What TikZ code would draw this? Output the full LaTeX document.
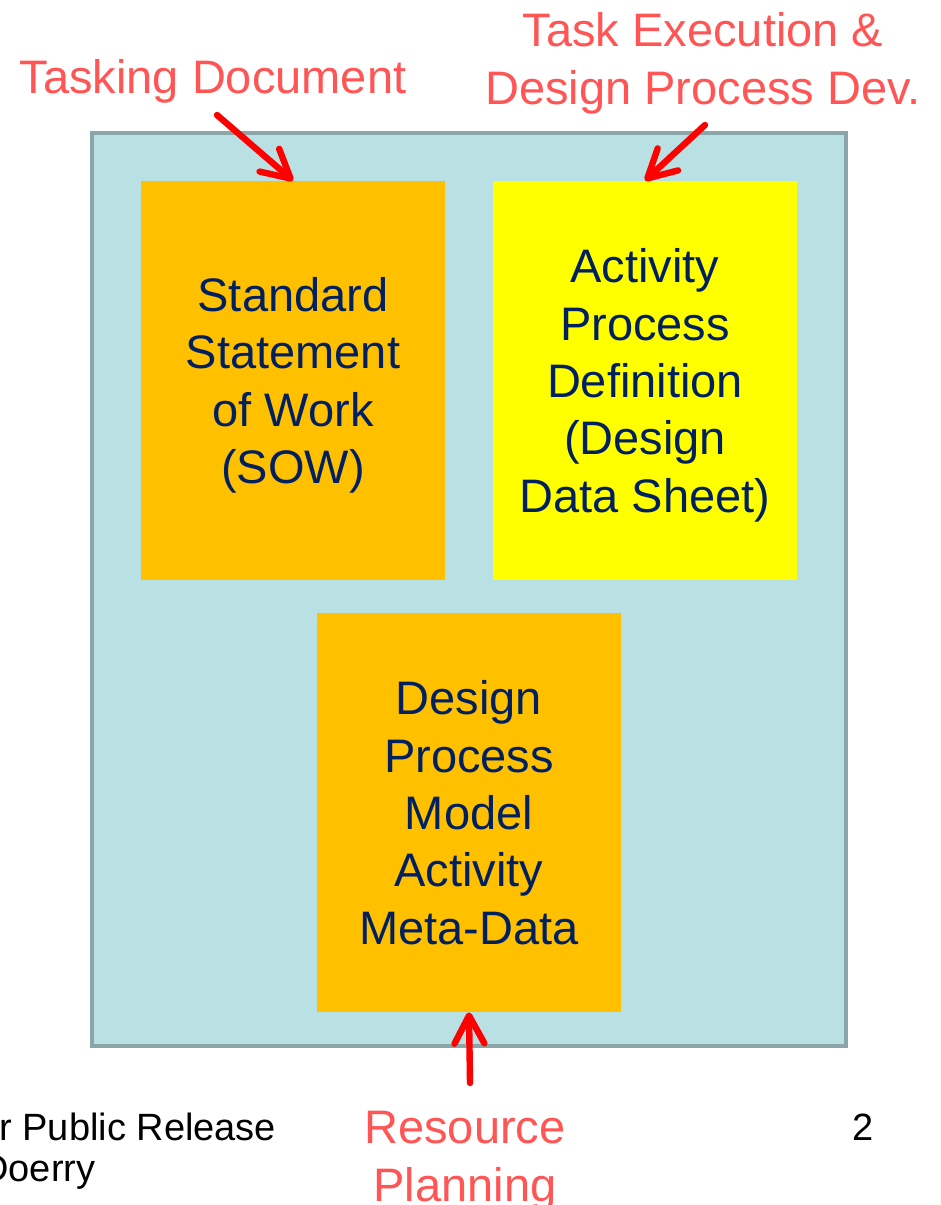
\documentclass[tikz,border=0pt]{standalone}
\usepackage{fontspec}
\setmainfont{Liberation Sans}
\usetikzlibrary{arrows.meta}
\definecolor{panel}{HTML}{B9E0E3}
\definecolor{panelrim}{HTML}{8AA6A8}
\definecolor{amber}{HTML}{FFC000}
\definecolor{lemon}{HTML}{FFFF00}
\definecolor{navy}{HTML}{002060}
\definecolor{salmon}{HTML}{FF5555}

\begin{document}
\begin{tikzpicture}[x=0.5pt,y=-0.5pt,
	block/.style={minimum width=152pt,minimum height=199.5pt,inner sep=0pt,text depth=0pt,align=center,text=navy,font=\fontsize{23.5}{28.7}\selectfont},
	tag/.style={align=center,text depth=0pt,text=salmon,font=\fontsize{23.5}{29}\selectfont},
	foot/.style={inner sep=0pt,anchor=west,font=\fontsize{19}{22}\selectfont},
	push/.style={draw=red,line width=3.2pt,line cap=round,-{Straight Barb[length=14pt,width=15pt,round]}}]
	\clip (0,0) rectangle (941,1205);
	\fill[white] (0,0) rectangle (941,1205);
	\draw[panelrim,fill=panel,line width=2pt] (92,133) rectangle (846,1046);

	\node[block,fill=amber] (sow) at (293,380.5) {Standard\\Statement\\of Work\\(SOW)};
	\node[block,fill=lemon] (add) at (645,380.5) {Activity\\Process\\Definition\\(Design\\Data Sheet)};
	\node[block,fill=amber] (dpm) at (469,812.5) {Design\\Process\\Model\\Activity\\Meta-Data};

	\node[tag] (tasking) at (213,76) {Tasking Document};
	\node[tag] (taskexec) at (703,58) {Task Execution \&\\Design Process Dev.};
	\node[tag] (resource) at (465,1156) {Resource\\Planning};

	\coordinate (tdtail) at (217,115);
	\coordinate (tetail) at (705,125);
	\coordinate (rptail) at (470,1083);
	\draw[push] (tdtail) -- (sow.north);
	\draw[push] (tetail) -- (add.north);
	\draw[push] (rptail) -- (dpm.south);

	\node[foot] (release) at (-1,1127) {r Public Release};
	\node[foot] (author) at (-19,1172) {Doerry};
	\node[foot] (page) at (852,1127) {2};
\end{tikzpicture}
\end{document}
